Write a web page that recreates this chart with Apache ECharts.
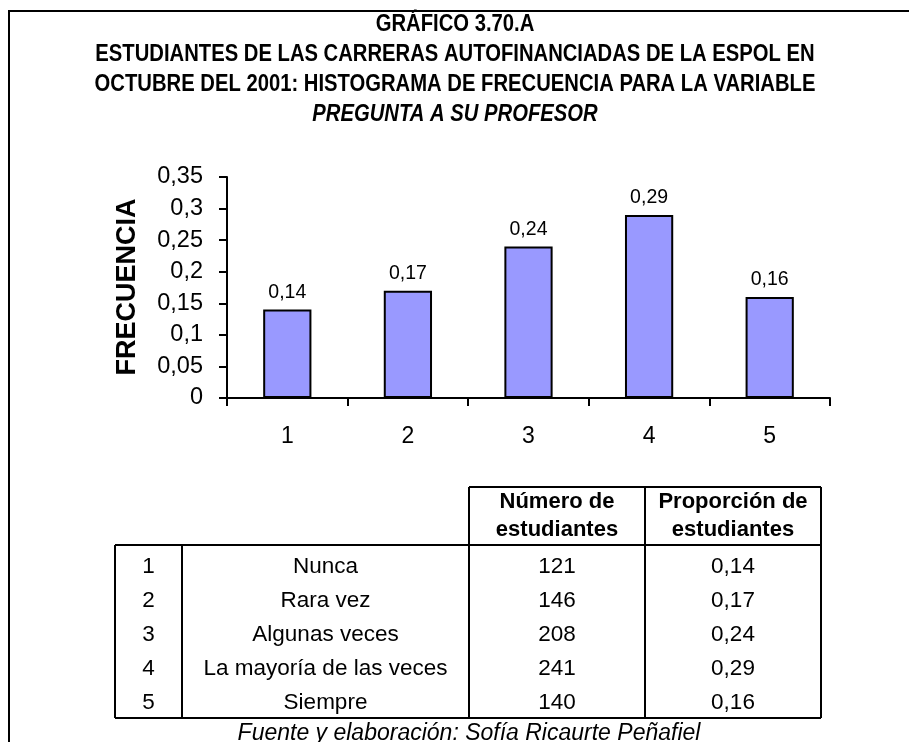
<!DOCTYPE html>
<html>
<head>
<meta charset="utf-8">
<script src="https://cdn.jsdelivr.net/npm/echarts@6/dist/echarts.min.js"></script>
<style>
  html, body { margin: 0; padding: 0; background: #fff; }
  #chart { width: 909px; height: 742px; }
</style>
</head>
<body>
<div id="chart"></div>
<script>
// Response scale and observed frequencies
const categories = ['1', '2', '3', '4', '5'];
const frequencies = [0.14, 0.17, 0.24, 0.29, 0.16];
const responseLabels = ['Nunca', 'Rara vez', 'Algunas veces', 'La mayoría de las veces', 'Siempre'];
const studentCounts = [121, 146, 208, 241, 140];
const proportions = [0.14, 0.17, 0.24, 0.29, 0.16];

const titleLines = [
  'GRÁFICO 3.70.A',
  'ESTUDIANTES DE LAS CARRERAS AUTOFINANCIADAS DE LA ESPOL EN',
  'OCTUBRE DEL 2001: HISTOGRAMA DE FRECUENCIA PARA LA VARIABLE',
  'PREGUNTA A SU PROFESOR'
];
const tableHeaders = [['Número de', 'estudiantes'], ['Proporción de', 'estudiantes']];
const sourceNote = 'Fuente y elaboración: Sofía Ricaurte Peñafiel';

const FONT = '"Liberation Sans", Arial, sans-serif';
const comma = v => String(+(+v).toFixed(2)).replace('.', ',');

// Layout of the summary table
const colX = [115, 182, 469, 645, 821];
const headTop = 487, bodyTop = 545, bodyBottom = 718;
const rowY0 = 567, rowStep = 34;

const graphics = [];

// frame: left and top edges
graphics.push({
  type: 'polyline',
  shape: { points: [[9, 742], [9, 11], [909, 11]] },
  style: { stroke: '#000', lineWidth: 2, fill: null }
});

// heading, set in a narrow bold face
const titleY = [25, 55, 85, 115];
titleLines.forEach((t, i) => {
  graphics.push({
    type: 'text', x: 455, y: titleY[i], scaleX: 0.88,
    style: {
      text: t, x: 0, y: 0, align: 'center', verticalAlign: 'middle',
      font: (i === 3 ? 'italic ' : '') + 'bold 23px ' + FONT, fill: '#000'
    }
  });
});

// y axis title
graphics.push({
  type: 'text', x: 128, y: 287, rotation: Math.PI / 2,
  style: { text: 'FRECUENCIA', align: 'center', verticalAlign: 'middle',
    font: 'bold 27px ' + FONT, fill: '#000' }
});

// table borders
const line = (x1, y1, x2, y2) => graphics.push({
  type: 'line', shape: { x1, y1, x2, y2 }, style: { stroke: '#000', lineWidth: 2 }
});
line(colX[2], headTop, colX[4], headTop);
line(colX[0], bodyTop, colX[4], bodyTop);
line(colX[0], bodyBottom, colX[4], bodyBottom);
line(colX[0], bodyTop, colX[0], bodyBottom);
line(colX[1], bodyTop, colX[1], bodyBottom);
line(colX[2], headTop, colX[2], bodyBottom);
line(colX[3], headTop, colX[3], bodyBottom);
line(colX[4], headTop, colX[4], bodyBottom);

const cellText = (text, cx, cy, bold) => graphics.push({
  type: 'text', x: cx, y: cy,
  style: { text, align: 'center', verticalAlign: 'middle',
    font: (bold ? 'bold 22px ' : '22.5px ') + FONT, fill: '#000' }
});

tableHeaders.forEach((lines, j) => {
  const cx = (colX[j + 2] + colX[j + 3]) / 2;
  cellText(lines[0], cx, 502, true);
  cellText(lines[1], cx, 530, true);
});

categories.forEach((c, i) => {
  const cy = rowY0 + i * rowStep;
  cellText(c, (colX[0] + colX[1]) / 2, cy);
  cellText(responseLabels[i], (colX[1] + colX[2]) / 2, cy);
  cellText(String(studentCounts[i]), (colX[2] + colX[3]) / 2, cy);
  cellText(comma(proportions[i]), (colX[3] + colX[4]) / 2, cy);
});

graphics.push({
  type: 'text', x: 469, y: 734,
  style: { text: sourceNote, align: 'center', verticalAlign: 'middle',
    font: 'italic 23px ' + FONT, fill: '#000' }
});

const chart = echarts.init(document.getElementById('chart'), null, { renderer: 'canvas' });
chart.setOption({
  backgroundColor: '#fff',
  animation: false,
  grid: { left: 227, right: 79, top: 177, bottom: 344 },
  xAxis: {
    type: 'category',
    data: categories,
    boundaryGap: true,
    axisLine: { lineStyle: { color: '#000', width: 2 } },
    axisTick: { show: true, alignWithLabel: false, length: 8, lineStyle: { color: '#000', width: 2 } },
    axisLabel: { color: '#000', fontSize: 23, fontFamily: FONT, margin: 27 },
    splitLine: { show: false }
  },
  yAxis: {
    type: 'value',
    min: 0, max: 0.35, interval: 0.05,
    axisLine: { show: true, lineStyle: { color: '#000', width: 2 } },
    axisTick: { show: true, length: 8, lineStyle: { color: '#000', width: 2 } },
    axisLabel: { color: '#000', fontSize: 23.5, fontFamily: FONT, margin: 24, formatter: v => comma(v) },
    splitLine: { show: false }
  },
  series: [{
    type: 'bar',
    data: frequencies,
    barWidth: '40%',
    itemStyle: { color: '#9999FF', borderColor: '#000', borderWidth: 2 },
    label: {
      show: true, position: 'top', distance: 7,
      color: '#000', fontSize: 19.5, fontFamily: FONT,
      formatter: p => comma(p.value)
    }
  }],
  graphic: { elements: graphics }
});
</script>
</body>
</html>
